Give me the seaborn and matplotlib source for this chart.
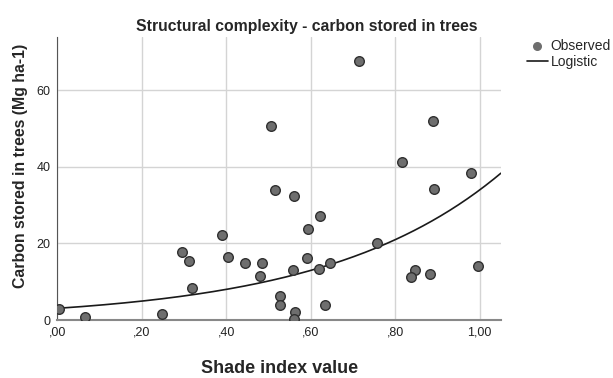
import numpy as np
import pandas as pd
import seaborn as sns
import matplotlib.pyplot as plt
from matplotlib.ticker import FuncFormatter

# observed points
shade = [0.004, 0.066, 0.247, 0.295, 0.311, 0.319, 0.390, 0.404, 0.445, 0.485,
         0.481, 0.505, 0.515, 0.527, 0.527, 0.714, 0.889, 0.816, 0.980, 0.892,
         0.561, 0.621, 0.594, 0.758, 0.590, 0.645, 0.559, 0.619, 0.846, 0.838,
         0.882, 0.996, 0.634, 0.562, 0.561]
carbon = [2.8, 0.7, 1.6, 17.8, 15.4, 8.4, 22.2, 16.5, 15.0, 15.0,
          11.5, 50.7, 33.9, 6.3, 3.9, 67.7, 52.0, 41.2, 38.5, 34.1,
          32.5, 27.1, 23.8, 20.1, 16.1, 15.0, 13.0, 13.2, 13.0, 11.2,
          12.1, 14.1, 4.0, 2.1, 0.3]

# logistic model (no upper bound) y = 1 / (b0 * b1**x)
b0 = 1 / 3.05
b1 = np.exp(-2.41)

x_ticks = [0.0, 0.2, 0.4, 0.6, 0.8, 1.0]
y_ticks = [0, 20, 40, 60]

df = pd.DataFrame({'Shade index value': shade, 'Carbon': carbon})
xs = np.linspace(0, 1.05, 200)
fit = pd.DataFrame({'x': xs, 'y': 1 / (b0 * b1 ** xs)})

sns.set_style('white')
plt.rcParams['font.family'] = ['Liberation Sans', 'DejaVu Sans']

def fmt(v, p):
    s = ('%.2f' % v).replace('.', ',')
    return s[1:] if s.startswith('0') else s

fig = plt.figure(figsize=(6.13, 3.78), dpi=100)
ax = fig.add_axes([0.0935, 0.1534, 0.7235, 0.748])

ax.grid(True, color='#d4d4d4', lw=1)
ax.set_axisbelow(True)
sns.scatterplot(data=df, x='Shade index value', y='Carbon', ax=ax, s=48,
                color='#6e6e6e', edgecolor='#303030', linewidth=1,
                label='Observed', zorder=3)
sns.lineplot(data=fit, x='x', y='y', ax=ax, color='#1a1a1a', lw=1.2,
             label='Logistic', zorder=2)

ax.set_xlim(0, 1.05)
ax.set_ylim(0, 73.8)
ax.set_xticks(x_ticks)
ax.set_yticks(y_ticks)
ax.xaxis.set_major_formatter(FuncFormatter(fmt))
ax.tick_params(length=0, labelsize=9, colors='#222222', pad=5)

for s in ['top', 'right']:
    ax.spines[s].set_visible(False)
ax.spines['left'].set_color('#555555')
ax.spines['bottom'].set_color('#888888')
ax.spines['bottom'].set_linewidth(1.5)

fig.text(0.5, 0.917, 'Structural complexity - carbon stored in trees',
         fontsize=11.3, fontweight='bold', ha='center', va='baseline')
ax.set_xlabel('Shade index value', fontsize=13, fontweight='bold')
ax.xaxis.set_label_coords(0.5, -0.143)
ax.set_ylabel('Carbon stored in trees (Mg ha-1)', fontsize=11.4, fontweight='bold')
ax.yaxis.set_label_coords(-0.066, 0.544)

leg = ax.legend(loc='upper left', bbox_to_anchor=(1.04, 1.025), frameon=False,
                fontsize=10, handlelength=1.5, handletextpad=0.2,
                borderaxespad=0.2, labelspacing=0.15)
leg.legend_handles[0].set_sizes([30])
leg.legend_handles[0].set_edgecolor('#6e6e6e')

fig.savefig('out.png', dpi=100)
